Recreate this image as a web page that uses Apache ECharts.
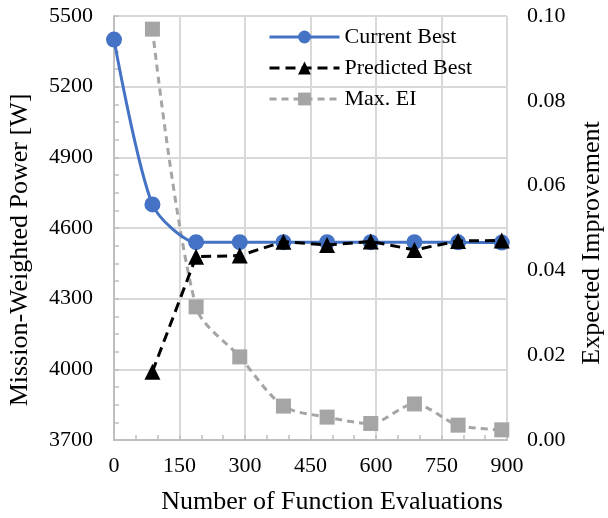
<!DOCTYPE html>
<html>
<head>
<meta charset="utf-8">
<script src="https://cdn.jsdelivr.net/npm/echarts@6/dist/echarts.min.js"></script>
<style>html,body{margin:0;padding:0;background:#fff}#c{width:608px;height:518px}</style>
</head>
<body>
<div id="c"></div>
<script>
var evals = [0, 88, 188, 288, 388, 488, 588, 688, 788, 888];
var currentBest = [5400, 4700, 4540, 4540, 4540, 4540, 4540, 4540, 4539, 4538];
var predEvals = [88, 188, 288, 388, 488, 588, 688, 788, 888];
var predictedBest = [3990, 4478, 4483, 4542, 4528, 4543, 4507, 4545, 4547];
var maxEI = [0.0969, 0.0314, 0.0196, 0.0080, 0.0054, 0.0039, 0.0085, 0.0035, 0.0024];
var xTicks = [0, 150, 300, 450, 600, 750, 900];
var leftTicks = [3700, 4000, 4300, 4600, 4900, 5200, 5500];
var rightTicks = [0, 0.02, 0.04, 0.06, 0.08, 0.10];

function pairs(xs, ys) { return xs.map(function (x, i) { return [x, ys[i]]; }); }

var FONT = 'Liberation Serif';
var chart = echarts.init(document.getElementById('c'), null, {renderer: 'canvas'});
chart.setOption({
  animation: false,
  backgroundColor: '#fff',
  textStyle: {fontFamily: FONT},
  grid: {left: 114, right: 101, top: 16, bottom: 78, containLabel: false},
  legend: {
    orient: 'vertical', left: 263, top: 21,
    itemWidth: 70, itemHeight: 16, itemGap: 9,
    lineStyle: {width: 3},
    textStyle: {fontFamily: FONT, fontSize: 22, color: '#000'},
    data: ['Current Best', 'Predicted Best', 'Max. EI']
  },
  xAxis: {
    type: 'value', min: xTicks[0], max: xTicks[xTicks.length - 1], interval: xTicks[1] - xTicks[0],
    axisLine: {show: true, lineStyle: {color: '#bfbfbf', width: 2}},
    axisTick: {show: true, inside: true, length: 5, lineStyle: {color: '#bfbfbf', width: 1.5}},
    minorTick: {show: true, splitNumber: 3, length: 5, lineStyle: {color: '#bfbfbf', width: 1.5}},
    splitLine: {show: true, lineStyle: {color: '#d9d9d9', width: 2}},
    axisLabel: {fontFamily: FONT, fontSize: 22, color: '#000', margin: 15,
      formatter: function (v) { return String(v); }}
  },
  yAxis: [{
    type: 'value', min: leftTicks[0], max: leftTicks[leftTicks.length - 1], interval: leftTicks[1] - leftTicks[0],
    axisLine: {show: true, lineStyle: {color: '#bfbfbf', width: 2}},
    axisTick: {show: true, inside: true, length: 5, lineStyle: {color: '#bfbfbf', width: 1.5}},
    minorTick: {show: true, splitNumber: 4, length: 5, lineStyle: {color: '#bfbfbf', width: 1.5}},
    splitLine: {show: true, lineStyle: {color: '#d9d9d9', width: 2}},
    axisLabel: {fontFamily: FONT, fontSize: 22, color: '#000', margin: 21,
      formatter: function (v) { return String(v); }}
  }, {
    type: 'value', min: rightTicks[0], max: rightTicks[rightTicks.length - 1], interval: 0.02,
    position: 'right',
    axisLine: {show: false}, axisTick: {show: false}, splitLine: {show: false},
    axisLabel: {fontFamily: FONT, fontSize: 22, color: '#000', margin: 20,
      formatter: function (v) { return v.toFixed(2); }}
  }],
  graphic: [
    {type: 'text', x: 20, y: 250, rotation: Math.PI / 2,
     style: {text: 'Mission-Weighted Power [W]', font: '26px "Liberation Serif"', fill: '#000',
       align: 'center', verticalAlign: 'middle'}},
    {type: 'text', x: 592, y: 243, rotation: Math.PI / 2,
     style: {text: 'Expected Improvement', font: '26px "Liberation Serif"', fill: '#000',
       align: 'center', verticalAlign: 'middle'}},
    {type: 'text', x: 332, y: 502,
     style: {text: 'Number of Function Evaluations', font: '26px "Liberation Serif"', fill: '#000',
       align: 'center', verticalAlign: 'middle'}}
  ],
  series: [{
    name: 'Max. EI', type: 'line', yAxisIndex: 1, smooth: 0.3,
    data: pairs(predEvals, maxEI),
    symbol: 'rect', symbolSize: 15,
    itemStyle: {color: '#a5a5a5'},
    lineStyle: {color: '#a5a5a5', width: 3, type: [7, 5]}, z: 2
  }, {
    name: 'Predicted Best', type: 'line', yAxisIndex: 0, smooth: false,
    data: pairs(predEvals, predictedBest),
    symbol: 'triangle', symbolSize: 16,
    itemStyle: {color: '#000'},
    lineStyle: {color: '#000', width: 3, type: [10, 6]}, z: 4
  }, {
    name: 'Current Best', type: 'line', yAxisIndex: 0, smooth: 0.25,
    data: pairs(evals, currentBest),
    symbol: 'circle', symbolSize: 16,
    itemStyle: {color: '#4472c4'},
    lineStyle: {color: '#4472c4', width: 3}, z: 3
  }]
});
</script>
</body>
</html>
